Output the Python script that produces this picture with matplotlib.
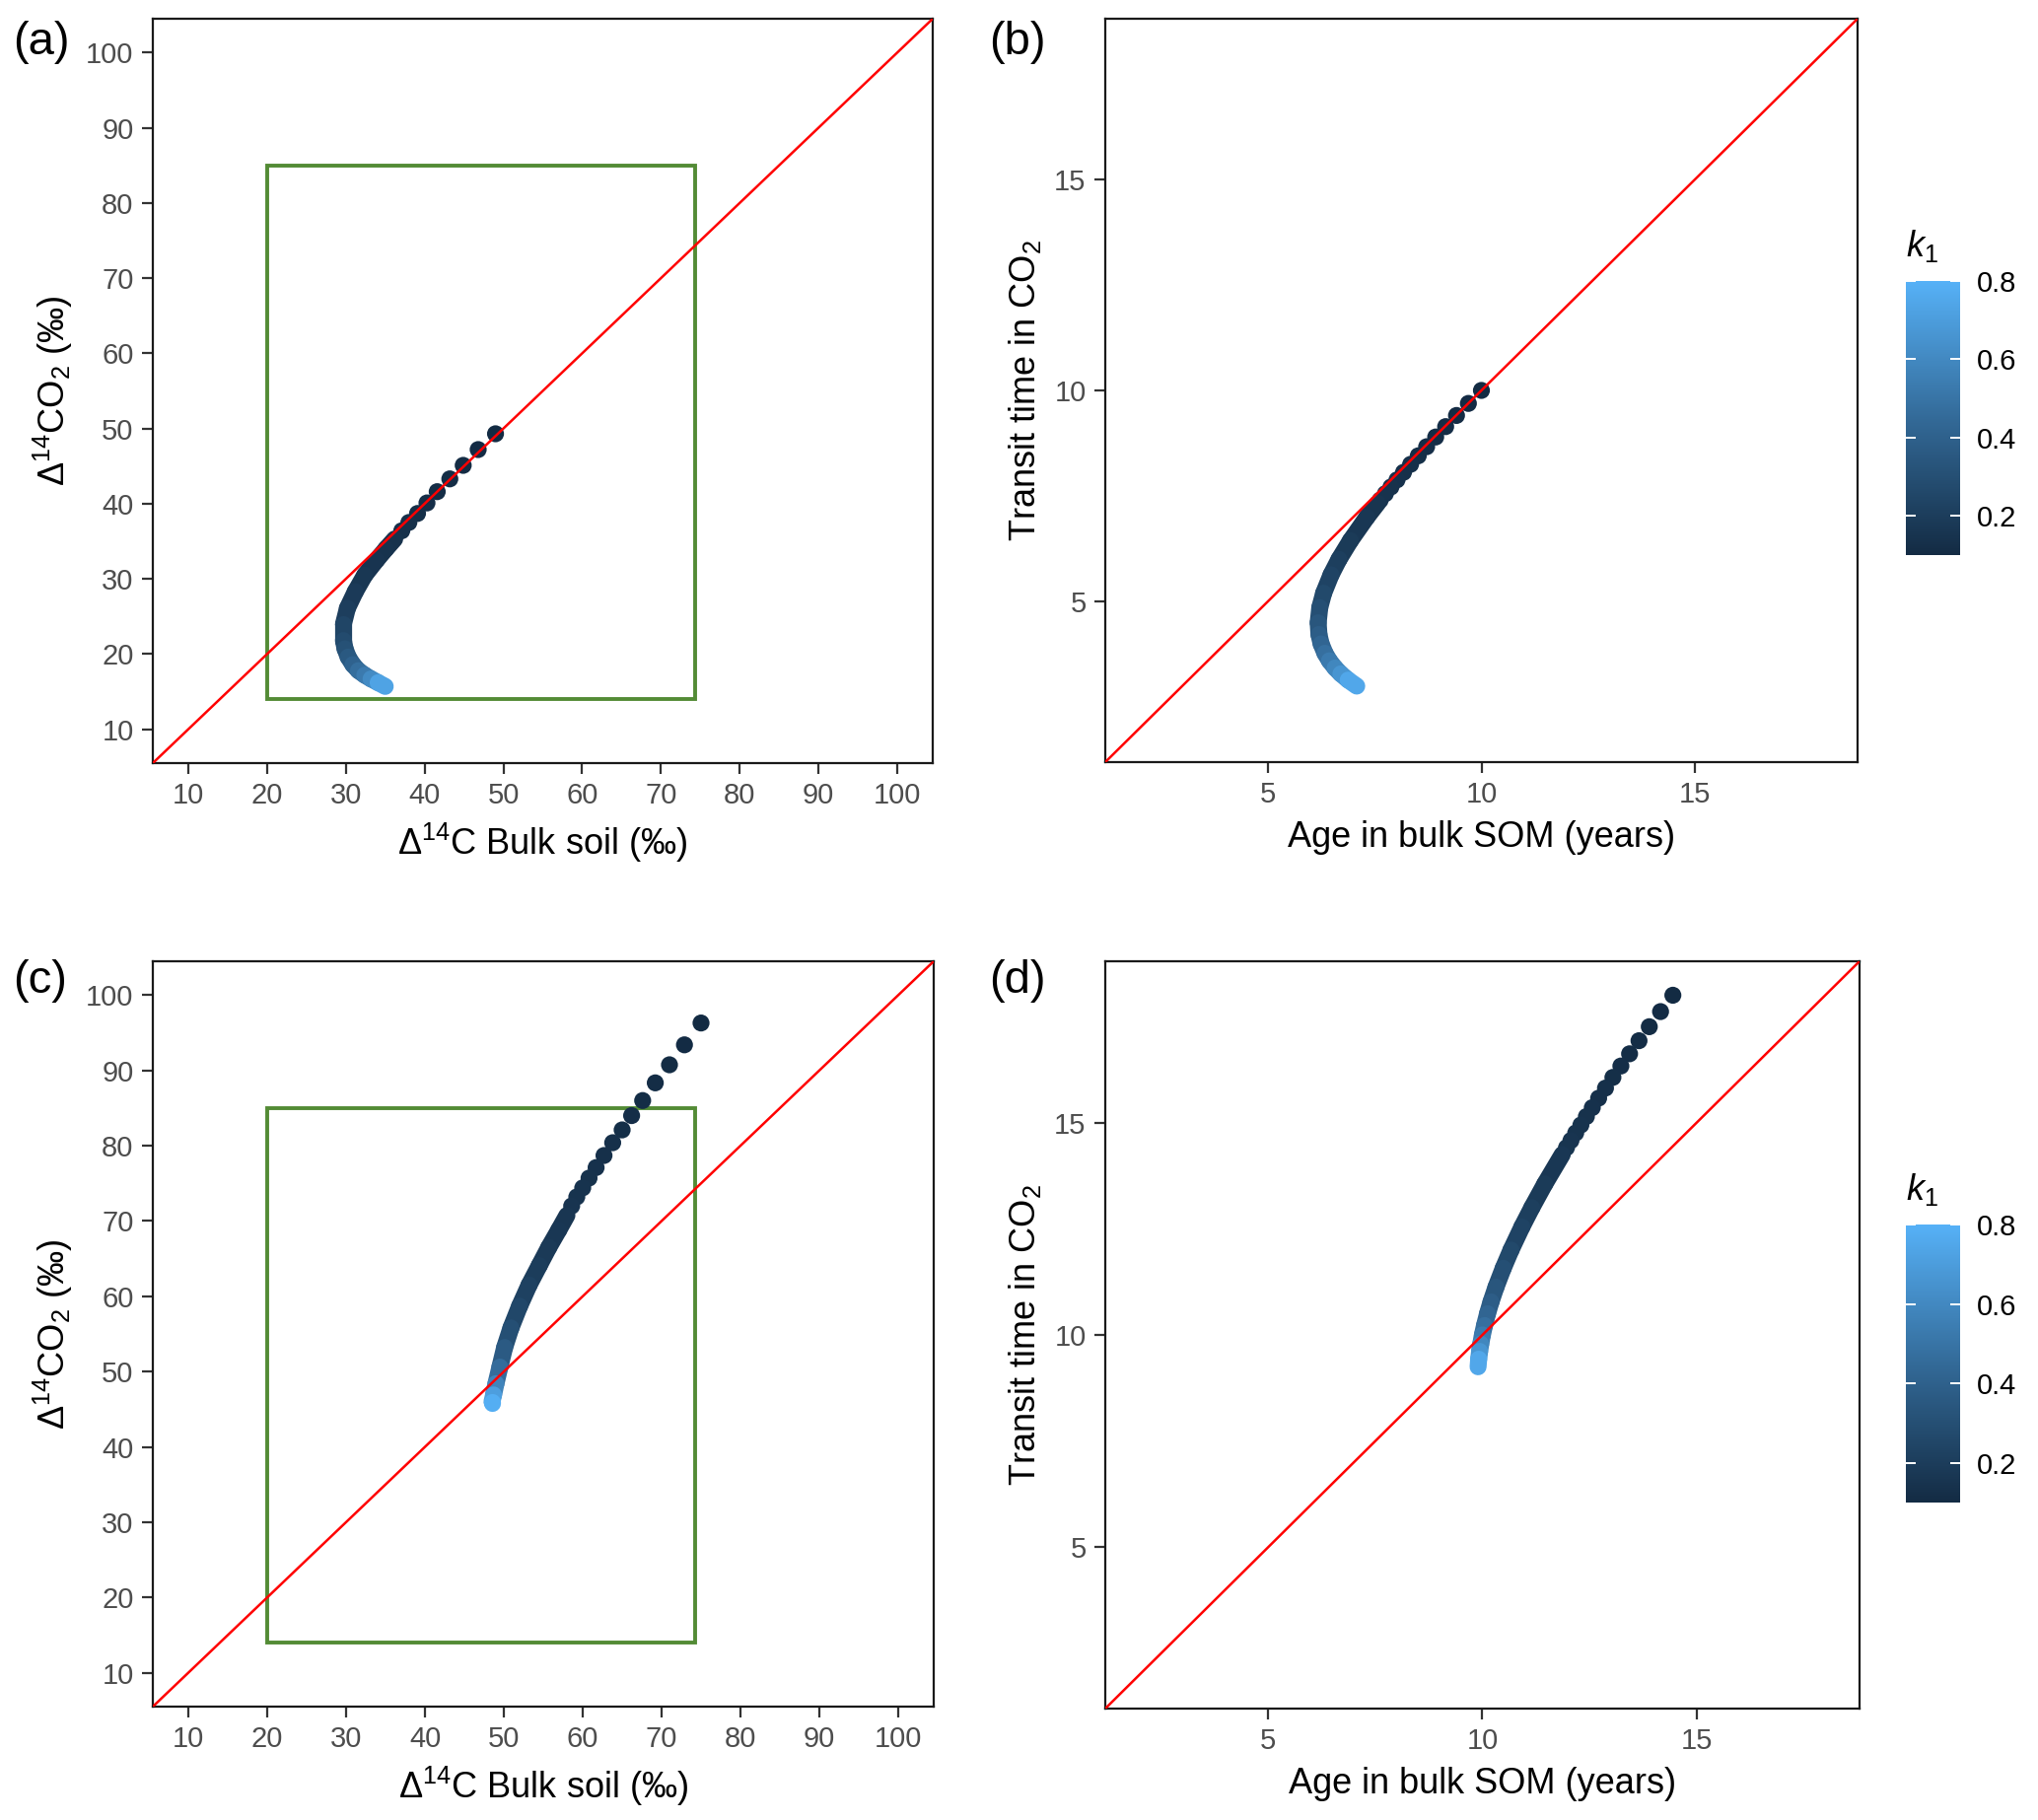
import numpy as np
import matplotlib
matplotlib.use("Agg")
import matplotlib.pyplot as plt
from matplotlib.collections import LineCollection
from matplotlib.colors import LinearSegmentedColormap, Normalize
from matplotlib.cm import ScalarMappable
from matplotlib.patches import Rectangle

plt.rcParams['font.family'] = ['Liberation Sans', 'DejaVu Sans']
plt.rcParams['mathtext.fontset'] = 'custom'
plt.rcParams['mathtext.rm'] = 'Liberation Sans'
plt.rcParams['mathtext.it'] = 'Liberation Sans:italic'

# ---- data ----
# (a) separate dots, k1 = 0.100 ... 0.132
a_dot_x = [49.0, 46.8, 44.9, 43.2, 41.6, 40.3, 39.1, 38.0, 37.1]
a_dot_y = [49.3, 47.2, 45.1, 43.3, 41.6, 40.1, 38.7, 37.5, 36.4]
a_dot_k = [0.100, 0.104, 0.108, 0.112, 0.116, 0.120, 0.124, 0.128, 0.132]
# (a) dense band
a_band_x = [36.2, 35.1, 33.9, 32.4, 31.2, 30.2, 29.7, 29.7, 29.9, 30.3, 30.9, 31.6, 32.4, 33.2, 34.1, 35.0]
a_band_y = [35.3, 34.0, 32.5, 30.5, 28.3, 26.1, 24.0, 21.8, 20.7, 19.6, 18.6, 17.8, 17.2, 16.7, 16.2, 15.7]
a_band_k = [0.136, 0.142, 0.149, 0.160, 0.175, 0.196, 0.222, 0.263, 0.295, 0.331, 0.38, 0.437, 0.50, 0.563, 0.66, 0.80]

# (b) separate dots
b_dot_x = [10.0, 9.695, 9.417, 9.163, 8.930, 8.718, 8.522, 8.343, 8.177, 8.025, 7.884, 7.753, 7.633]
b_dot_y = [10.0, 9.692, 9.407, 9.143, 8.897, 8.667, 8.452, 8.250, 8.061, 7.882, 7.714, 7.556, 7.405]
b_dot_k = [0.100, 0.104, 0.108, 0.112, 0.116, 0.120, 0.124, 0.128, 0.132, 0.136, 0.140, 0.144, 0.148]
# (b) dense band
b_band_x = [7.576, 7.321, 6.935, 6.667, 6.482, 6.308, 6.218, 6.181, 6.199, 6.250, 6.340, 6.444, 6.577, 6.711, 6.883, 7.083]
b_band_y = [7.333, 7.000, 6.444, 6.000, 5.636, 5.200, 4.857, 4.500, 4.222, 4.000, 3.778, 3.600, 3.429, 3.290, 3.143, 3.000]
b_band_k = [0.15, 0.16, 0.18, 0.20, 0.22, 0.25, 0.28, 0.32, 0.36, 0.40, 0.45, 0.50, 0.56, 0.62, 0.70, 0.80]

# (c) separate dots
c_dot_x = [75.0, 72.9, 71.0, 69.2, 67.6, 66.2, 65.0, 63.8, 62.7, 61.7, 60.8, 60.0, 59.25, 58.6]
c_dot_y = [96.3, 93.4, 90.75, 88.35, 86.0, 84.0, 82.1, 80.4, 78.7, 77.1, 75.7, 74.4, 73.2, 72.0]
c_dot_k = [0.100, 0.104, 0.108, 0.112, 0.116, 0.120, 0.124, 0.128, 0.132, 0.136, 0.140, 0.144, 0.148, 0.152]
# (c) dense band
c_band_x = [58.0, 56.96, 55.7, 54.5, 53.2, 52.0, 50.9, 50.1, 49.5, 49.0, 48.7, 48.5, 48.5]
c_band_y = [70.75, 68.8, 66.5, 64.1, 61.5, 58.7, 55.8, 53.2, 50.6, 48.4, 46.9, 46.0, 45.8]
c_band_k = [0.157, 0.165, 0.177, 0.191, 0.210, 0.237, 0.275, 0.325, 0.403, 0.515, 0.646, 0.766, 0.80]

# (d) separate dots
d_dot_x = [14.444, 14.157, 13.894, 13.654, 13.434, 13.231, 13.045, 12.872, 12.712, 12.564, 12.426, 12.298, 12.177, 12.066, 11.962]
d_dot_y = [18.0, 17.615, 17.259, 16.929, 16.621, 16.333, 16.065, 15.813, 15.576, 15.353, 15.143, 14.944, 14.757, 14.579, 14.410]
d_dot_k = [0.100, 0.104, 0.108, 0.112, 0.116, 0.120, 0.124, 0.128, 0.132, 0.136, 0.140, 0.144, 0.148, 0.152, 0.156]
# (d) dense band
d_band_x = [11.864, 11.456, 11.154, 10.922, 10.667, 10.486, 10.316, 10.200, 10.119, 10.049, 10.000, 9.961, 9.935, 9.913, 9.899]
d_band_y = [14.250, 13.556, 13.000, 12.545, 12.000, 11.571, 11.125, 10.778, 10.500, 10.222, 10.000, 9.786, 9.613, 9.429, 9.250]
d_band_k = [0.16, 0.18, 0.20, 0.22, 0.25, 0.28, 0.32, 0.36, 0.40, 0.45, 0.50, 0.56, 0.62, 0.70, 0.80]

# green box in the radiocarbon panels
box_x = [20.0, 74.3]
box_y = [14.0, 85.0]

k_lim = (0.1, 0.8)
k_ticks = [0.2, 0.4, 0.6, 0.8]

# ---- style ----
W, H = 2067, 1846
DPI = 200
cmap = LinearSegmentedColormap.from_list('gg', ['#132B43', '#336A98', '#56B1F7'])
norm = Normalize(*k_lim)
PT_DIAM = 6.2          # point diameter in points
TICK_GRAY = '#4D4D4D'

fig = plt.figure(figsize=(W / DPI, H / DPI), dpi=DPI)


def px_axes(l, t, r, b):
    return fig.add_axes([l / W, 1 - b / H, (r - l) / W, (b - t) / H])


def draw_curve(ax, dx, dy, dk, bx, by, bk):
    ax.scatter(dx, dy, c=dk, cmap=cmap, norm=norm, s=PT_DIAM ** 2,
               linewidths=0, zorder=3)
    pts = np.column_stack([bx, by])
    segs = np.stack([pts[:-1], pts[1:]], axis=1)
    kk = (np.array(bk[:-1]) + np.array(bk[1:])) / 2
    lc = LineCollection(segs, cmap=cmap, norm=norm, linewidths=PT_DIAM,
                        capstyle='round', joinstyle='round', zorder=4)
    lc.set_array(kk)
    ax.add_collection(lc)


def style(ax, lim, ticks, xlabel, ylabel):
    ax.set_xlim(*lim)
    ax.set_ylim(*lim)
    ax.set_xticks(ticks)
    ax.set_yticks(ticks)
    # 1:1 line sits above the points
    ax.plot(lim, lim, color='#FF0000', lw=0.9, zorder=6)
    for s in ax.spines.values():
        s.set_linewidth(0.8)
        s.set_color('#1A1A1A')
    ax.tick_params(direction='out', length=4, width=0.8, color='#333333',
                   labelsize=10.5, labelcolor=TICK_GRAY, pad=3)
    ax.set_xlabel(xlabel, fontsize=13, labelpad=4)
    ax.set_ylabel(ylabel, fontsize=13, labelpad=4)


def colorbar(t, b):
    cax = px_axes(1933, t, 1988, b)
    cb = fig.colorbar(ScalarMappable(norm=norm, cmap=cmap), cax=cax, ticks=k_ticks)
    cb.outline.set_visible(False)
    cax.tick_params(axis='y', which='both', left=True, right=True, direction='in',
                    length=3.6, width=0.7, color='white', labelsize=10.5, pad=6)
    cax.set_yticklabels(['0.2', '0.4', '0.6', '0.8'])
    cax.text(0.0, 1.06, '$k_1$', transform=cax.transAxes, fontsize=13,
             ha='left', va='bottom')


lab_c14_y = 'Δ$^{14}$CO$_2$ (‰)'
lab_c14_x = 'Δ$^{14}$C Bulk soil (‰)'
lab_tt = 'Transit time in CO$_2$'
lab_age = 'Age in bulk SOM (years)'

rad_lim = (5.5, 104.5)
rad_ticks = list(range(10, 101, 10))
age_lim = (1.2, 18.8)
age_ticks = [5, 10, 15]

# (a)
ax_a = px_axes(155, 19, 946, 774)
style(ax_a, rad_lim, rad_ticks, lab_c14_x, lab_c14_y)
ax_a.add_patch(Rectangle((box_x[0], box_y[0]), box_x[1] - box_x[0], box_y[1] - box_y[0],
                         fill=False, edgecolor='#538B35', lw=1.4, zorder=1))
draw_curve(ax_a, a_dot_x, a_dot_y, a_dot_k, a_band_x, a_band_y, a_band_k)

# (b)
ax_b = px_axes(1121, 19, 1884, 773)
style(ax_b, age_lim, age_ticks, lab_age, lab_tt)
draw_curve(ax_b, b_dot_x, b_dot_y, b_dot_k, b_band_x, b_band_y, b_band_k)
colorbar(285, 563)

# (c)
ax_c = px_axes(155, 975, 947, 1731)
style(ax_c, rad_lim, rad_ticks, lab_c14_x, lab_c14_y)
ax_c.add_patch(Rectangle((box_x[0], box_y[0]), box_x[1] - box_x[0], box_y[1] - box_y[0],
                         fill=False, edgecolor='#538B35', lw=1.4, zorder=1))
draw_curve(ax_c, c_dot_x, c_dot_y, c_dot_k, c_band_x, c_band_y, c_band_k)

# (d)
ax_d = px_axes(1121, 975, 1886, 1733)
style(ax_d, age_lim, age_ticks, lab_age, lab_tt)
draw_curve(ax_d, d_dot_x, d_dot_y, d_dot_k, d_band_x, d_band_y, d_band_k)
colorbar(1242, 1524)

for lab, x, y in [('(a)', 13, 43), ('(b)', 1003, 43), ('(c)', 13, 995), ('(d)', 1003, 995)]:
    fig.text(x / W, 1 - y / H, lab, fontsize=17, ha='left', va='center')

fig.savefig('out.png', dpi=DPI)
